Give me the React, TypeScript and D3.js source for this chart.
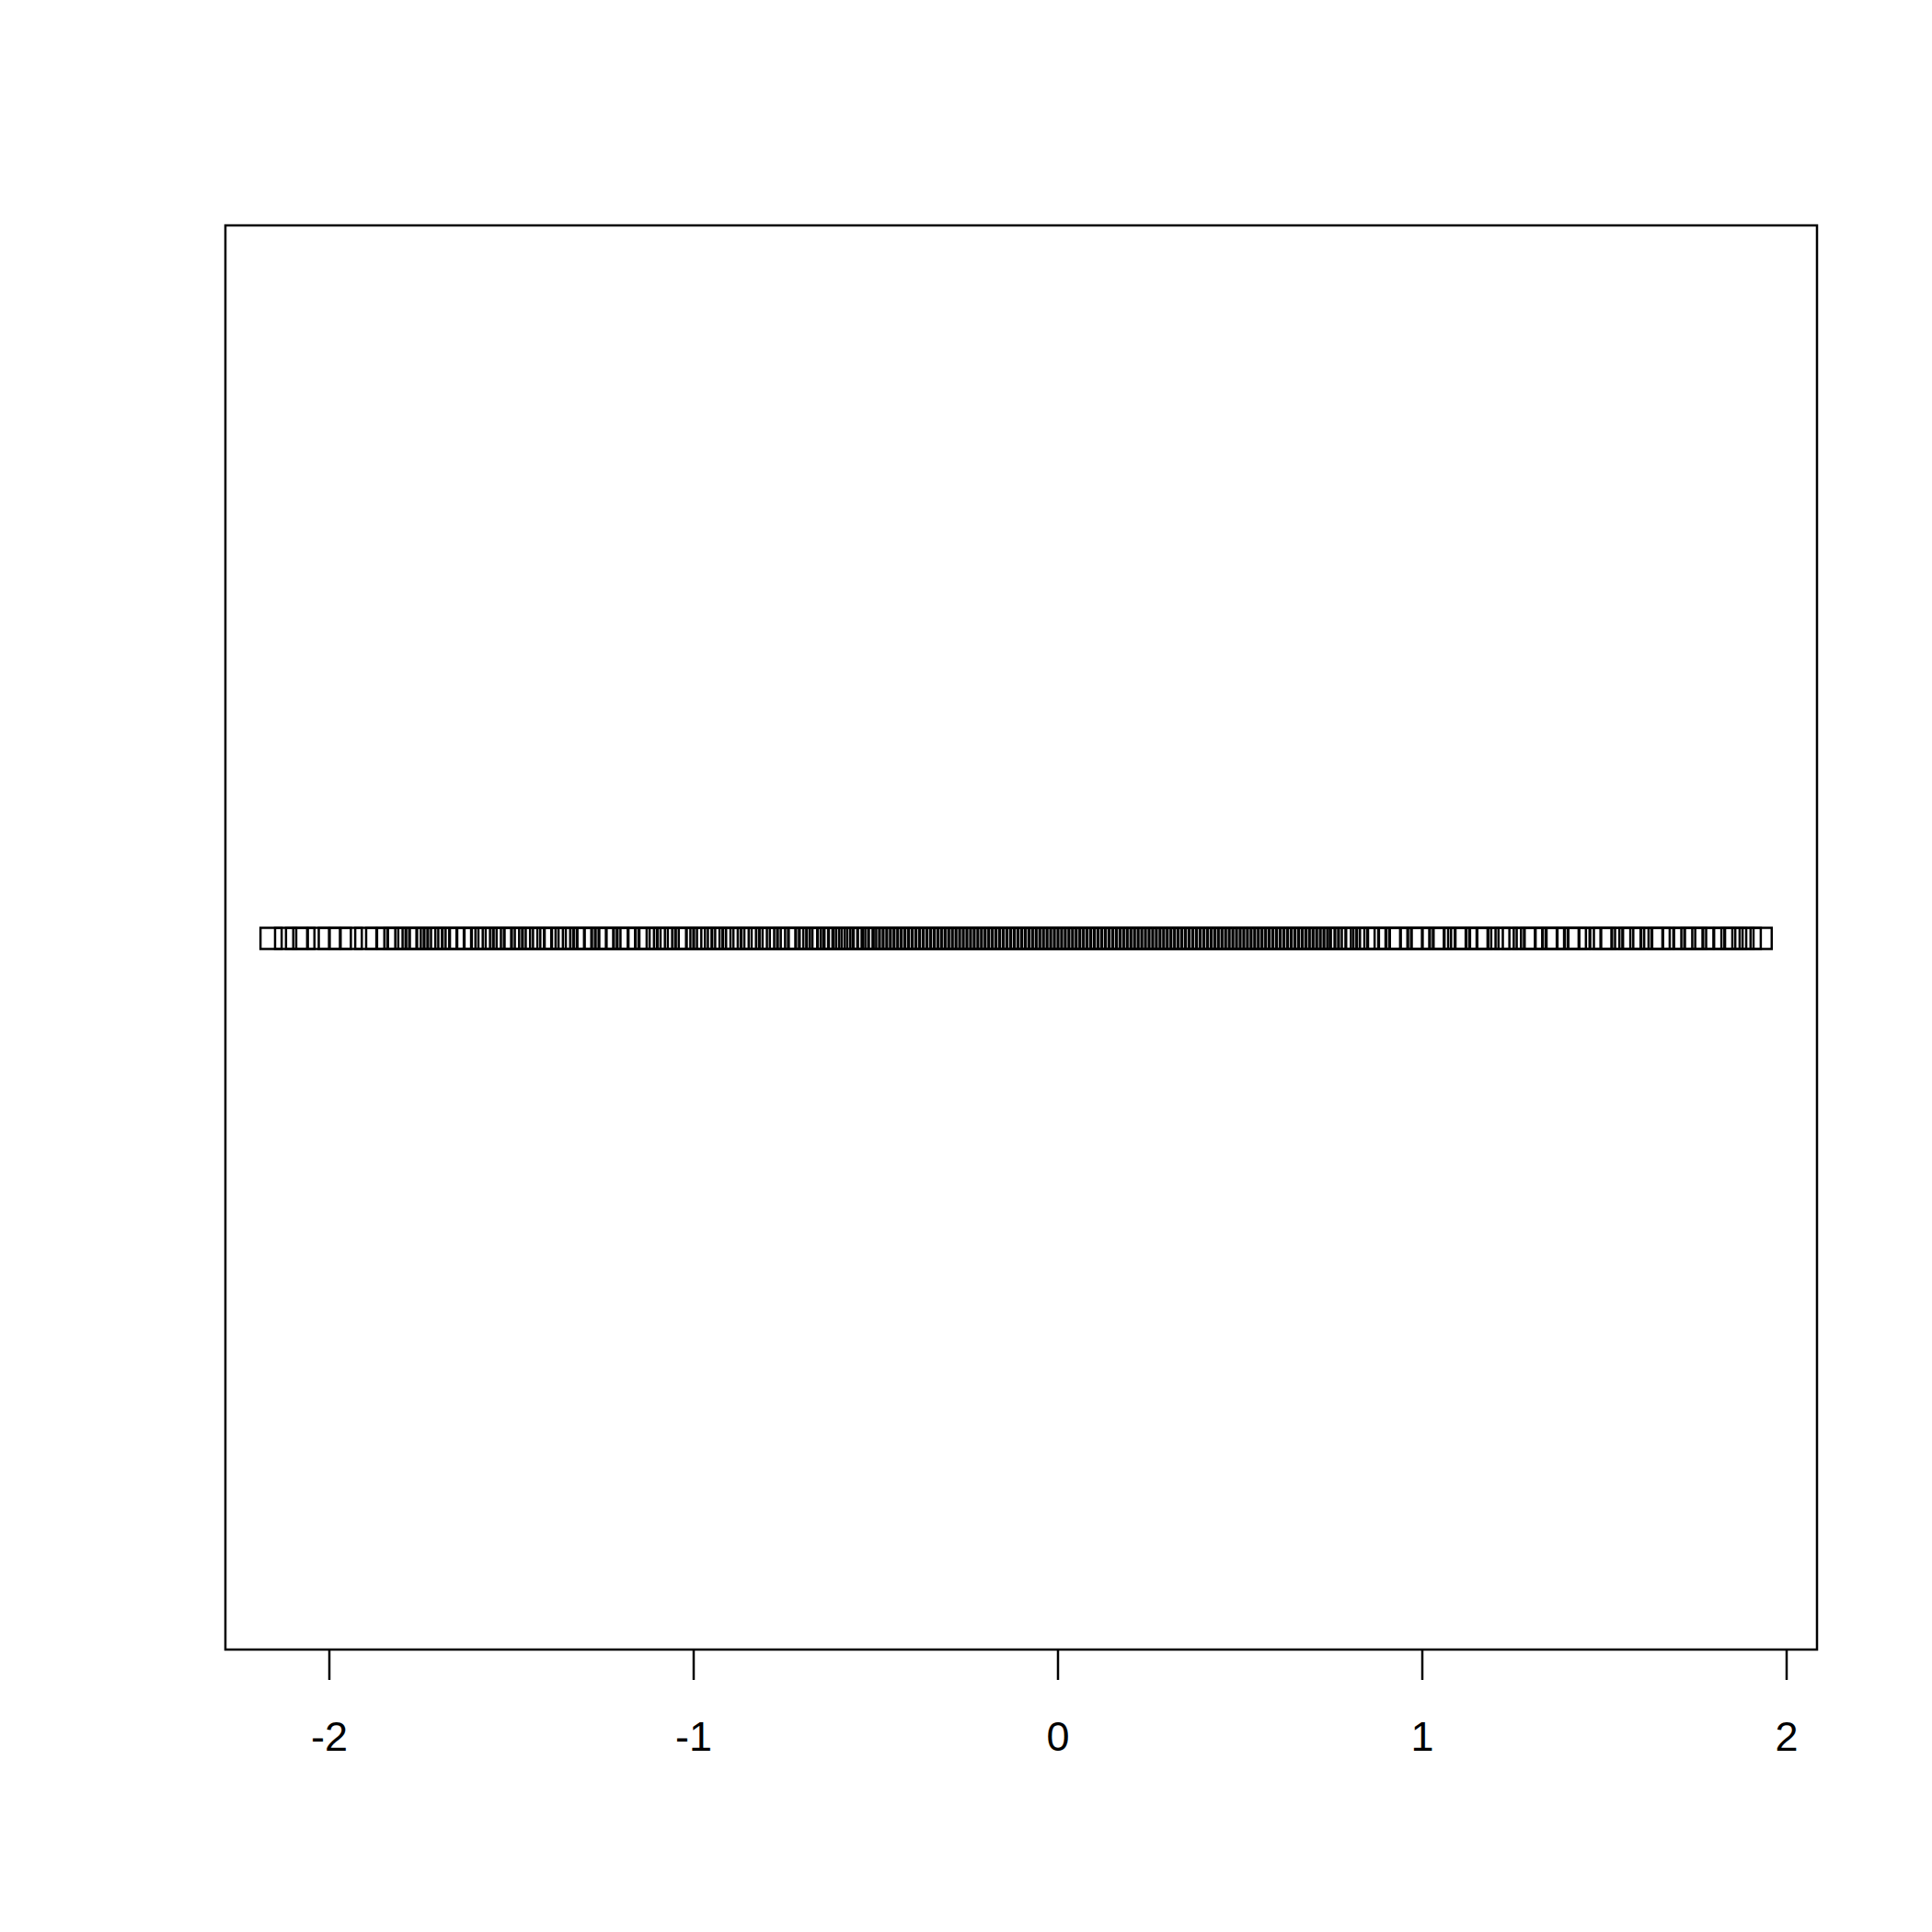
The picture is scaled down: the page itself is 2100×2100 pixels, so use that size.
import * as d3 from 'd3';

// stripchart values (estimated)
const values: number[] = [
  -2.16, -2.12, -2.09, -2.07, -2.03, -2.0, -1.97,
  -1.94, -1.9, -1.87, -1.84, -1.82, -1.79, -1.77, -1.75, -1.73, -1.71, -1.7, -1.68, -1.66,
  -1.62, -1.6, -1.58, -1.55, -1.53, -1.52, -1.5, -1.47, -1.45, -1.42, -1.4, -1.38, -1.35,
  -1.33, -1.31, -1.29, -1.27, -1.25, -1.23, -1.21, -1.18, -1.15, -1.13, -1.1, -1.07, -1.05,
  -1.02, -0.99, -0.97, -0.94, -0.9, -0.87, -0.84, -0.8, -0.77, -0.74, -0.71, -0.68, -0.66,
  -0.63, -0.6, -0.58, -0.55, -0.52, -0.5, -0.48, -0.46, -0.44, -0.42, -0.4, -0.38, -0.36,
  -0.34, -0.32, -0.3, -0.28, -0.26, -0.24, -0.22, -0.2, -0.18, -0.16, -0.14, -0.12, -0.1,
  -0.08, -0.06, -0.04, -0.02, 0.0, 0.02, 0.04, 0.06, 0.08, 0.1, 0.12, 0.14, 0.16, 0.18,
  0.2, 0.22, 0.24, 0.26, 0.28, 0.3, 0.32, 0.34, 0.36, 0.38, 0.4, 0.42, 0.44, 0.46, 0.48,
  0.5, 0.52, 0.54, 0.56, 0.58, 0.6, 0.62, 0.64, 0.66, 0.68, 0.7, 0.72, 0.74, 0.76, 0.79,
  0.82, 0.85, 0.88, 0.91, 0.94, 0.97, 1.0, 1.03, 1.06, 1.09, 1.12, 1.15, 1.18, 1.21,
  1.25, 1.28, 1.31, 1.34, 1.37, 1.4, 1.43, 1.46, 1.49, 1.52, 1.55, 1.57, 1.6, 1.63,
  1.66, 1.69, 1.72, 1.75, 1.77, 1.8, 1.83, 1.85, 1.88, 1.9, 1.93,
];
// extra values in the dense middle band
const denseValues: number[] = [
  -1.81, -1.76, -1.72, -1.64, -1.57, -1.49, -1.44, -1.36, -1.3, -1.24, -1.19, -1.12,
  -1.08, -1.03, -0.98, -0.95, -0.92, -0.89, -0.85, -0.82, -0.79, -0.75,
  -0.72, -0.69, -0.67, -0.645, -0.615, -0.59, -0.565, -0.535, -0.51, -0.49, -0.47, -0.45,
  -0.43, -0.41, -0.39, -0.37, -0.35, -0.33, -0.31, -0.29, -0.27, -0.25, -0.23, -0.21,
  -0.19, -0.17, -0.15, -0.13, -0.11, -0.09, -0.07, -0.05, -0.03, -0.01, 0.01, 0.03,
  0.05, 0.07, 0.09, 0.11, 0.13, 0.15, 0.17, 0.19, 0.21, 0.23, 0.25, 0.27, 0.29, 0.31,
  0.33, 0.35, 0.37, 0.39, 0.41, 0.43, 0.45, 0.47, 0.49, 0.51, 0.53, 0.55, 0.57, 0.59,
  0.61, 0.63, 0.65, 0.67, 0.69, 0.71, 0.73, 0.75, 0.775, 0.8, 0.84, 0.87, 0.93, 0.99,
  1.05, 1.1, 1.16, 1.23, 1.3, 1.36, 1.42, 1.5, 1.58, 1.65, 1.74, 1.86,
];
const xTicks: number[] = [-2, -1, 0, 1, 2];

export default function App() {
  const left = 237, right = 1967, top = 237, bottom = 1785;
  const x = d3.scaleLinear().domain([-2, 2]).range([350, 1934]);
  const yMid = 1012;
  const s = 23;
  const all = values.concat(denseValues);
  return (
    <svg width={2084} height={2084} style={{ display: 'block', background: '#fff' }}>
      <rect x={left} y={top} width={right - left} height={bottom - top} fill="none" stroke="#000" strokeWidth={2.5} />
      {all.map((v, i) => (
        <rect key={i} x={x(v) - s / 2} y={yMid - s / 2} width={s} height={s} fill="none" stroke="#000" strokeWidth={2.5} />
      ))}
      {xTicks.map(t => (
        <g key={t}>
          <line x1={x(t)} x2={x(t)} y1={bottom} y2={bottom + 33} stroke="#000" strokeWidth={2.5} />
          <text x={x(t)} y={1895} textAnchor="middle" fontFamily="Liberation Sans, Arial, sans-serif" fontSize={45}>{t}</text>
        </g>
      ))}
    </svg>
  );
}
